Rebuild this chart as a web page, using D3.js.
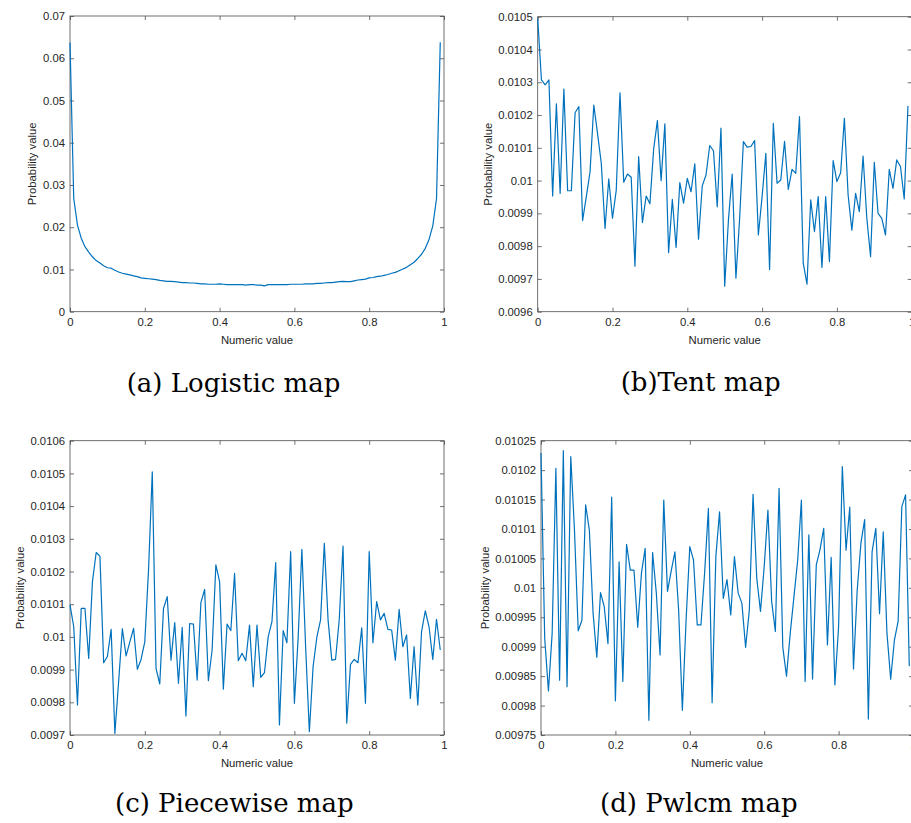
<!DOCTYPE html>
<html><head><meta charset="utf-8">
<script src="https://cdn.jsdelivr.net/npm/d3@7"></script>
<style>body{margin:0;background:#fff;overflow:hidden}</style>
</head><body><svg id="c" width="911" height="823"></svg>
<script>
// ---- data (bin start x = 0, 0.01, ..., 0.99) ----
const binCount = 100;
const logisticValues = [
0.0637,0.0268,0.0205,0.0174,0.0154,0.0141,0.0130,0.0121,0.0115,0.0109,
0.0104,0.0103,0.0098,0.0094,0.0091,0.0089,0.0087,0.0085,0.0083,0.0080,
0.0079,0.0078,0.0077,0.0076,0.0074,0.0073,0.0072,0.0072,0.0071,0.0070,
0.0069,0.0069,0.0068,0.0068,0.0067,0.0066,0.0066,0.0065,0.0065,0.0065,
0.0066,0.0065,0.0064,0.0064,0.0064,0.0064,0.0064,0.0063,0.0064,0.0064,
0.0063,0.0063,0.0061,0.0064,0.0064,0.0064,0.0064,0.0064,0.0064,0.0065,
0.0065,0.0065,0.0065,0.0066,0.0066,0.0066,0.0067,0.0067,0.0068,0.0069,
0.0069,0.0070,0.0071,0.0072,0.0071,0.0071,0.0073,0.0075,0.0076,0.0077,
0.0080,0.0081,0.0083,0.0084,0.0086,0.0088,0.0091,0.0093,0.0097,0.0101,
0.0105,0.0111,0.0117,0.0126,0.0136,0.0150,0.0171,0.0203,0.0268,0.0638];
const tentValues = [
0.010495,0.010307,0.010292,0.010307,0.009953,0.010234,0.009961,0.010279,0.009969,0.009969,
0.010207,0.010226,0.009878,0.009951,0.010027,0.010230,0.010144,0.010053,0.009854,0.010005,
0.009885,0.009970,0.010268,0.009995,0.010020,0.010010,0.009739,0.010073,0.009872,0.009953,
0.009929,0.010095,0.010183,0.010000,0.010173,0.009780,0.009943,0.009796,0.009994,0.009931,
0.010007,0.009966,0.010051,0.009821,0.009984,0.010017,0.010107,0.010091,0.009920,0.010160,
0.009678,0.009880,0.010020,0.009702,0.009885,0.010119,0.010102,0.010104,0.010122,0.009834,
0.009951,0.010083,0.009729,0.010175,0.009992,0.010002,0.010120,0.009973,0.010034,0.010022,
0.010195,0.009748,0.009684,0.009941,0.009844,0.009951,0.009735,0.009951,0.009753,0.010061,
0.009997,0.010024,0.010190,0.009956,0.009849,0.009961,0.009905,0.010075,0.009885,0.009768,
0.010056,0.009900,0.009885,0.009834,0.010034,0.009976,0.010063,0.010043,0.009944,0.010228];
const piecewiseValues = [
0.010098,0.010031,0.009792,0.010087,0.010087,0.009934,0.010169,0.010258,0.010247,0.009921,
0.009940,0.010023,0.009705,0.009863,0.010025,0.009942,0.009985,0.010026,0.009901,0.009931,
0.009985,0.010205,0.010505,0.009904,0.009856,0.010087,0.010123,0.009929,0.010044,0.009858,
0.010029,0.009758,0.010041,0.010039,0.009868,0.010105,0.010145,0.009866,0.009960,0.010220,
0.010169,0.009840,0.010039,0.010019,0.010194,0.009927,0.009950,0.009927,0.010036,0.009848,
0.010036,0.009876,0.009891,0.010001,0.010047,0.010227,0.009731,0.010019,0.009982,0.010261,
0.009797,0.009996,0.010268,0.009970,0.009710,0.009909,0.009999,0.010052,0.010286,0.010052,
0.009929,0.009931,0.010054,0.010278,0.009736,0.009916,0.009931,0.009921,0.010028,0.009797,
0.010261,0.009982,0.010108,0.010052,0.010072,0.010023,0.010021,0.009929,0.010084,0.009970,
0.010006,0.009812,0.009970,0.009792,0.010016,0.010080,0.010031,0.009931,0.010054,0.009960];
const pwlcmValues = [
0.010229,0.009914,0.009825,0.009923,0.010203,0.009843,0.010233,0.009832,0.010223,0.010098,
0.009927,0.009945,0.010141,0.010098,0.009957,0.009882,0.009992,0.009968,0.009905,0.010154,
0.009808,0.010044,0.009841,0.010074,0.010030,0.010030,0.009933,0.010025,0.010067,0.009775,
0.010060,0.009991,0.009886,0.010149,0.009994,0.010029,0.010061,0.009962,0.009792,0.009945,
0.010070,0.010047,0.009937,0.009937,0.010027,0.010135,0.009805,0.010053,0.010129,0.009982,
0.010014,0.009954,0.010053,0.009991,0.009974,0.009899,0.009962,0.010159,0.010016,0.009960,
0.010036,0.010132,0.009977,0.009926,0.010169,0.009899,0.009850,0.009923,0.009985,0.010047,
0.010149,0.009841,0.010090,0.009845,0.010039,0.010065,0.010101,0.009903,0.010052,0.009835,
0.009934,0.010206,0.010064,0.010137,0.009862,0.009996,0.010076,0.010116,0.009777,0.010061,
0.010101,0.009956,0.010095,0.009923,0.009845,0.009911,0.009943,0.010138,0.010158,0.009867];

const xTickValues = [0,0.2,0.4,0.6,0.8,1];
const xTickLabels = ["0","0.2","0.4","0.6","0.8","1"];
const logisticTicks = [0,0.01,0.02,0.03,0.04,0.05,0.06,0.07];
const logisticTickLabels = ["0","0.01","0.02","0.03","0.04","0.05","0.06","0.07"];
const tentTicks = [0.0096,0.0097,0.0098,0.0099,0.01,0.0101,0.0102,0.0103,0.0104,0.0105];
const tentTickLabels = ["0.0096","0.0097","0.0098","0.0099","0.01","0.0101","0.0102","0.0103","0.0104","0.0105"];
const piecewiseTicks = [0.0097,0.0098,0.0099,0.01,0.0101,0.0102,0.0103,0.0104,0.0105,0.0106];
const piecewiseTickLabels = ["0.0097","0.0098","0.0099","0.01","0.0101","0.0102","0.0103","0.0104","0.0105","0.0106"];
const pwlcmTicks = [0.00975,0.0098,0.00985,0.0099,0.00995,0.01,0.01005,0.0101,0.01015,0.0102,0.01025];
const pwlcmTickLabels = ["0.00975","0.0098","0.00985","0.0099","0.00995","0.01","0.01005","0.0101","0.01015","0.0102","0.01025"];
const captions = ["(a) Logistic map","(b)Tent map","(c) Piecewise map","(d) Pwlcm map"];
const xAxisTitle = "Numeric value";
const yAxisTitle = "Probability value";

// ---- layout ----
const panels = [
  {values: logisticValues, ticks: logisticTicks, labels: logisticTickLabels, domain:[0,0.07],
   left:70, top:16, w:374, h:295.7, ylabX:32, capX:126.7, capY:391.7},
  {values: tentValues, ticks: tentTicks, labels: tentTickLabels, domain:[0.0096,0.0105],
   left:537.7, top:16.7, w:374, h:295, ylabX:487.7, capX:620.7, capY:390.7},
  {values: piecewiseValues, ticks: piecewiseTicks, labels: piecewiseTickLabels, domain:[0.0097,0.0106],
   left:70, top:440.7, w:374, h:294.3, ylabX:20.3, capX:115, capY:812.3},
  {values: pwlcmValues, ticks: pwlcmTicks, labels: pwlcmTickLabels, domain:[0.00975,0.01025],
   left:541, top:440.7, w:372, h:294.3, ylabX:485, capX:600, capY:812.3}
];

const svg = d3.select("#c");
const xs = d3.range(binCount).map(i => i / binCount);
const axisColor = "#4d4d4d";
const textColor = "#262626";

panels.forEach((p, k) => {
  const x = d3.scaleLinear().domain([0,1]).range([0,p.w]);
  const y = d3.scaleLinear().domain(p.domain).range([p.h,0]);
  const g = svg.append("g").attr("transform", `translate(${p.left},${p.top})`);

  const styleAxis = sel => {
    sel.select(".domain").remove();
    sel.selectAll(".tick line").attr("stroke", axisColor).attr("stroke-width", 0.8);
    sel.selectAll("text").attr("fill", textColor)
      .style("font-family", "'Liberation Sans', Arial, sans-serif").style("font-size", "11.3px");
  };

  g.append("g").attr("transform", `translate(0,${p.h})`)
    .call(d3.axisBottom(x).tickValues(xTickValues).tickFormat((d,i)=>xTickLabels[i])
      .tickSizeInner(-4).tickSizeOuter(0).tickPadding(6)).call(styleAxis);
  g.append("g")
    .call(d3.axisTop(x).tickValues(xTickValues).tickFormat("")
      .tickSizeInner(-4).tickSizeOuter(0)).call(styleAxis);
  g.append("g")
    .call(d3.axisLeft(y).tickValues(p.ticks).tickFormat((d,i)=>p.labels[i])
      .tickSizeInner(-4).tickSizeOuter(0).tickPadding(5)).call(styleAxis);
  g.append("g").attr("transform", `translate(${p.w},0)`)
    .call(d3.axisRight(y).tickValues(p.ticks).tickFormat("")
      .tickSizeInner(-4).tickSizeOuter(0)).call(styleAxis);

  g.append("rect").attr("x",0).attr("y",0).attr("width",p.w).attr("height",p.h)
    .attr("fill","none").attr("stroke",axisColor).attr("stroke-width",0.8);

  const line = d3.line().x((d,i)=>x(xs[i])).y(d=>y(d));
  g.append("path").datum(p.values).attr("d", line)
    .attr("fill","none").attr("stroke","#0072BD").attr("stroke-width",1.2)
    .attr("stroke-linejoin","round");

  g.append("text").attr("x", p.w/2).attr("y", p.h + 32).attr("text-anchor","middle")
    .attr("fill", textColor).style("font-family","'Liberation Sans', Arial, sans-serif")
    .style("font-size","11.3px").text(xAxisTitle);

  svg.append("text").attr("transform", `translate(${p.ylabX},${p.top + p.h/2}) rotate(-90)`)
    .attr("text-anchor","middle").attr("dy","0.35em")
    .attr("fill", textColor).style("font-family","'Liberation Sans', Arial, sans-serif")
    .style("font-size","11.3px").text(yAxisTitle);

  svg.append("text").attr("x", p.capX).attr("y", p.capY)
    .attr("fill","#000").style("font-family","'DejaVu Serif', serif")
    .style("font-size","26px").text(captions[k]);
});
</script></body></html>
